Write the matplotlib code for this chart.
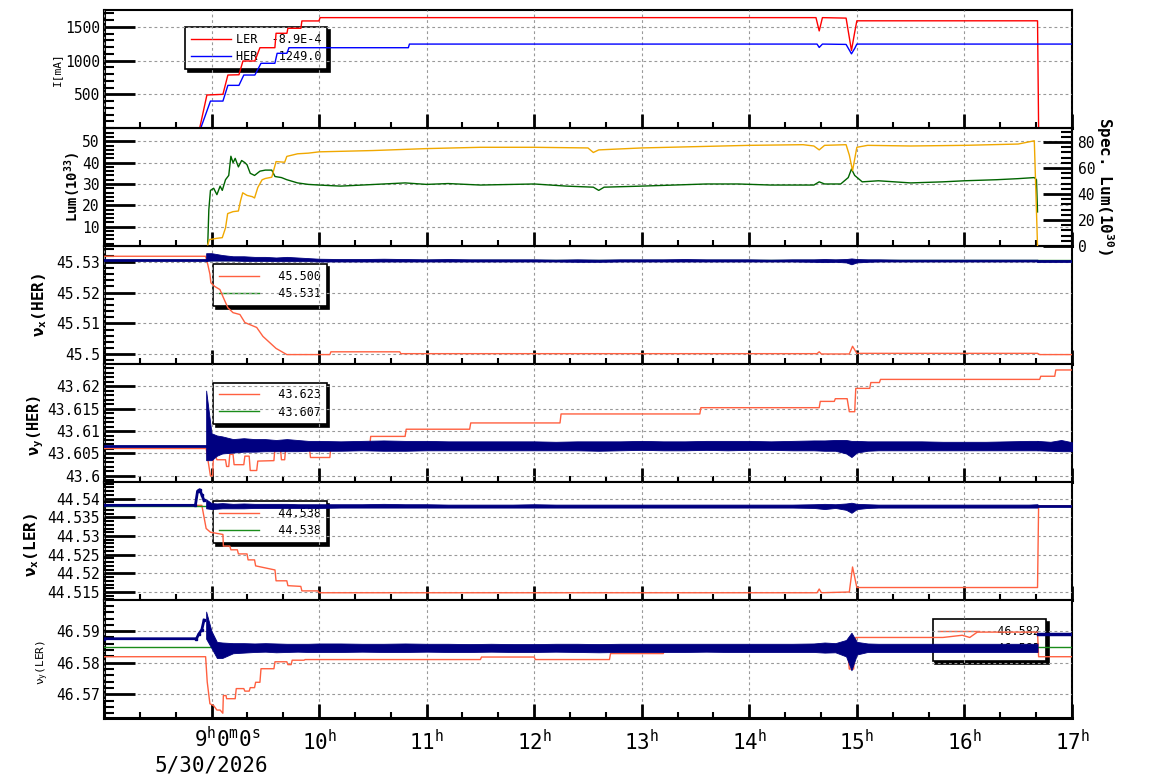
import matplotlib
matplotlib.use("Agg")
import matplotlib.pyplot as plt
from matplotlib.ticker import MultipleLocator, AutoMinorLocator, FuncFormatter

plt.rcParams['font.family'] = 'DejaVu Sans Mono'
plt.rcParams['mathtext.default'] = 'regular'

# ---------------- data (time in hours) ----------------
# beam currents [mA]
ler_t = [8.0, 8.89, 8.957, 9.106, 9.152, 9.255, 9.292, 9.403, 9.45, 9.589, 9.60, 9.701, 9.71,
         9.831, 9.84, 9.998, 10.01, 14.62, 14.65, 14.68, 14.90, 14.95, 14.98, 15.0, 16.68, 16.69, 17.0]
ler_i = [0, 0, 490, 500, 786, 790, 994, 994, 1191, 1191, 1405, 1405, 1479,
         1479, 1588, 1588, 1637, 1637, 1440, 1637, 1630, 1150, 1420, 1590, 1590, 0, 0]
her_t = [8.0, 8.90, 8.99, 9.106, 9.152, 9.255, 9.30, 9.403, 9.46, 9.589, 9.61, 9.701, 9.72,
         10.83, 10.84, 14.63, 14.65, 14.68, 14.90, 14.95, 14.98, 15.0, 17.0]
her_i = [0, 0, 400, 400, 633, 633, 786, 786, 960, 960, 1108, 1108, 1191,
         1191, 1245, 1245, 1195, 1245, 1240, 1100, 1180, 1245, 1245]

# luminosity
lum_t = [8.965, 8.975, 8.99, 9.02, 9.05, 9.08, 9.10, 9.13, 9.16, 9.18, 9.20, 9.22, 9.25, 9.28,
         9.31, 9.33, 9.36, 9.40, 9.45, 9.50, 9.56, 9.59, 9.65, 9.70, 9.80, 9.90, 10.0, 10.2,
         10.4, 10.6, 10.8, 11.0, 11.2, 11.5, 11.8, 12.0, 12.3, 12.55, 12.6, 12.65, 13.0, 13.3,
         13.6, 13.9, 14.2, 14.5, 14.6, 14.65, 14.7, 14.85, 14.92, 14.95, 14.98, 15.05, 15.2,
         15.5, 15.8, 16.0, 16.3, 16.5, 16.65, 16.67, 16.68]
lum_v = [2, 18, 27, 28, 25, 29, 27, 32, 34, 43, 40, 42, 38, 41,
         40, 39, 35, 34, 36, 36.5, 36.5, 33.5, 33, 32, 30.5, 29.8, 29.5, 29,
         29.5, 30, 30.5, 29.8, 30.2, 29.5, 29.8, 30, 29, 28.5, 27, 28.5, 29, 29.5,
         30, 30, 29.5, 29.5, 29.5, 31, 30, 30, 33, 37, 34, 31, 31.5,
         30.5, 31, 31.5, 32, 32.5, 33, 32, 16.9]
spec_t = [8.965, 8.98, 9.05, 9.10, 9.13, 9.15, 9.20, 9.25, 9.27, 9.29, 9.33, 9.38, 9.40, 9.43,
          9.47, 9.50, 9.56, 9.59, 9.60, 9.68, 9.70, 9.75, 9.80, 9.90, 10.0, 10.5, 11.0, 11.5,
          12.0, 12.5, 12.55, 12.6, 13.0, 13.5, 14.0, 14.5, 14.6, 14.65, 14.7, 14.9, 14.93,
          14.96, 15.0, 15.1, 15.5, 16.0, 16.5, 16.65, 16.68]
spec_v = [1, 5, 6, 6.5, 14, 25, 26.5, 27, 35, 41, 39, 38, 37, 45,
          51, 52, 53, 62, 65, 64.5, 69, 70, 71, 71.5, 72.5, 73.5, 75, 76,
          76, 75.5, 72, 74, 75.5, 76.5, 77.5, 78, 77, 74, 77.5, 78, 70,
          58, 76, 77.5, 77, 77.5, 78.5, 81, 0]

# common time grid for measured tunes (blue points)
tb = [8.95, 9.0, 9.05, 9.1, 9.2, 9.3, 9.4, 9.5, 9.6, 9.7, 9.8, 9.9, 10.0, 10.2, 10.4, 10.6,
      10.8, 11.0, 11.2, 11.4, 11.6, 11.8, 12.0, 12.2, 12.4, 12.6, 12.8, 13.0, 13.2, 13.4,
      13.6, 13.8, 14.0, 14.2, 14.4, 14.6, 14.7, 14.8, 14.9, 14.95, 15.0, 15.1, 15.2, 15.4,
      15.6, 15.8, 16.0, 16.2, 16.4, 16.6, 16.68]

# nu_x HER
hx_set_t = [8.0, 8.945, 8.966, 8.985, 8.994, 9.03, 9.078, 9.115, 9.152, 9.20, 9.264, 9.31,
            9.42, 9.478, 9.60, 9.70, 10.1, 10.11, 10.75, 10.76, 14.63, 14.65, 14.67, 14.93,
            14.96, 15.0, 16.68, 16.70, 17.0]
hx_set_v = [45.5318, 45.5318, 45.529, 45.526, 45.5232, 45.522, 45.521, 45.518, 45.5151,
            45.5135, 45.5129, 45.5103, 45.5087, 45.5058, 45.5019, 45.4999, 45.4999, 45.5008,
            45.5008, 45.5002, 45.5002, 45.5008, 45.5001, 45.5001, 45.5026, 45.5003, 45.5003,
            45.4999, 45.4999]
hx_ref = 45.5306
hx_lo = [45.5303, 45.5304, 45.5304, 45.5304, 45.5304, 45.5303, 45.5303, 45.5303, 45.5302,
         45.5302, 45.5302, 45.5302, 45.5301, 45.5301, 45.5301, 45.5301, 45.5301, 45.5301,
         45.5301, 45.5301, 45.5301, 45.5301, 45.5301, 45.5301, 45.5300, 45.5300, 45.5301,
         45.5301, 45.5301, 45.5301, 45.5301, 45.5301, 45.5301, 45.5301, 45.5301, 45.5300,
         45.5299, 45.5300, 45.5298, 45.5292, 45.5298, 45.5300, 45.5301, 45.5301, 45.5301,
         45.5301, 45.5301, 45.5301, 45.5301, 45.5301, 45.5301]
hx_hi = [45.5328, 45.5328, 45.5325, 45.5322, 45.5318, 45.5318, 45.5316, 45.5316, 45.5314,
         45.5316, 45.5314, 45.5312, 45.5310, 45.5309, 45.5309, 45.5310, 45.5309, 45.5308,
         45.5309, 45.5308, 45.5308, 45.5308, 45.5308, 45.5307, 45.5308, 45.5307, 45.5308,
         45.5308, 45.5308, 45.5309, 45.5308, 45.5308, 45.5308, 45.5307, 45.5308, 45.5308,
         45.5309, 45.5308, 45.5309, 45.5311, 45.5309, 45.5308, 45.5308, 45.5307, 45.5307,
         45.5307, 45.5307, 45.5307, 45.5307, 45.5307, 45.5307]

# nu_y HER
hy_set_t = [8.0, 8.95, 8.98, 8.99, 9.01, 9.02, 9.05, 9.13, 9.14, 9.16, 9.17, 9.20, 9.21, 9.30,
            9.31, 9.35, 9.36, 9.42, 9.43, 9.58, 9.59, 9.64, 9.65, 9.68, 9.69, 9.91, 9.92,
            10.1, 10.11, 10.47, 10.48, 10.80, 10.81, 11.40, 11.41, 12.24, 12.25, 13.54,
            13.55, 14.65, 14.66, 14.79, 14.80, 14.91, 14.93, 14.98, 14.99, 15.12, 15.13,
            15.21, 15.22, 16.70, 16.71, 16.84, 16.85, 17.0]
hy_set_v = [43.6061, 43.6061, 43.6015, 43.6, 43.6, 43.6055, 43.6036, 43.6036, 43.6021,
            43.6021, 43.6048, 43.6048, 43.6025, 43.6025, 43.6044, 43.6044, 43.6012, 43.6012,
            43.6033, 43.6034, 43.6063, 43.6063, 43.6036, 43.6036, 43.6063, 43.6063, 43.6041,
            43.6041, 43.6066, 43.6066, 43.6088, 43.6088, 43.6104, 43.6104, 43.6118, 43.6118,
            43.6138, 43.6138, 43.6152, 43.6152, 43.6166, 43.6166, 43.6172, 43.6172, 43.6143,
            43.6143, 43.6195, 43.6195, 43.6208, 43.6208, 43.6215, 43.6215, 43.6222, 43.6222,
            43.6236, 43.6236]
hy_ref = 43.6067
hy_lo = [43.6035, 43.6035, 43.6045, 43.6050, 43.6052, 43.6054, 43.6054, 43.6055, 43.6055,
         43.6055, 43.6055, 43.6056, 43.6056, 43.6056, 43.6057, 43.6056, 43.6056, 43.6057,
         43.6057, 43.6057, 43.6057, 43.6057, 43.6057, 43.6057, 43.6057, 43.6056, 43.6057,
         43.6058, 43.6057, 43.6057, 43.6058, 43.6057, 43.6058, 43.6058, 43.6057, 43.6057,
         43.6056, 43.6056, 43.6050, 43.6042, 43.6052, 43.6056, 43.6057, 43.6057, 43.6057,
         43.6057, 43.6057, 43.6057, 43.6057, 43.6057, 43.6057]
hy_hi = [43.6190, 43.6095, 43.6090, 43.6088, 43.6082, 43.6084, 43.6082, 43.6082, 43.6080,
         43.6082, 43.6080, 43.6078, 43.6078, 43.6077, 43.6078, 43.6079, 43.6078, 43.6078,
         43.6077, 43.6077, 43.6077, 43.6077, 43.6077, 43.6076, 43.6077, 43.6077, 43.6077,
         43.6078, 43.6077, 43.6077, 43.6078, 43.6078, 43.6078, 43.6077, 43.6078, 43.6079,
         43.6079, 43.6080, 43.6080, 43.6078, 43.6078, 43.6077, 43.6077, 43.6077, 43.6077,
         43.6076, 43.6076, 43.6076, 43.6077, 43.6078, 43.6078]
hy_end_t = [16.68, 16.8, 16.9, 17.0]
hy_end_lo = [43.6057, 43.6056, 43.6055, 43.6055]
hy_end_hi = [43.6078, 43.6076, 43.6080, 43.6075]

# nu_x LER
lx_set_t = [8.0, 8.91, 8.95, 8.99, 9.106, 9.11, 9.17, 9.18, 9.24, 9.25, 9.33, 9.34, 9.40,
            9.41, 9.59, 9.60, 9.70, 9.71, 9.83, 9.84, 9.99, 10.0, 14.63, 14.65, 14.67,
            14.93, 14.96, 15.0, 16.68, 16.69, 17.0]
lx_set_v = [44.5382, 44.5382, 44.532, 44.5310, 44.5304, 44.5273, 44.5273, 44.5263, 44.5263,
            44.5252, 44.5252, 44.5236, 44.5236, 44.5220, 44.5209, 44.5180, 44.5180, 44.5167,
            44.5165, 44.5153, 44.5153, 44.5148, 44.5148, 44.5158, 44.5148, 44.5150, 44.5217,
            44.5162, 44.5162, 44.5381, 44.5381]
lx_ref = 44.5379
lx_lo = [44.5374, 44.5372, 44.5373, 44.5374, 44.5374, 44.5374, 44.5375, 44.5375, 44.5375,
         44.5375, 44.5375, 44.5375, 44.5375, 44.5376, 44.5376, 44.5376, 44.5376, 44.5376,
         44.5376, 44.5376, 44.5376, 44.5376, 44.5376, 44.5376, 44.5376, 44.5376, 44.5376,
         44.5376, 44.5376, 44.5376, 44.5376, 44.5376, 44.5376, 44.5376, 44.5376, 44.5375,
         44.5372, 44.5375, 44.5370, 44.5362, 44.5372, 44.5375, 44.5376, 44.5376, 44.5376,
         44.5376, 44.5376, 44.5376, 44.5376, 44.5376, 44.5376]
lx_hi = [44.5398, 44.5388, 44.5387, 44.5388, 44.5386, 44.5387, 44.5386, 44.5386, 44.5386,
         44.5386, 44.5385, 44.5385, 44.5385, 44.5385, 44.5385, 44.5386, 44.5385, 44.5385,
         44.5384, 44.5384, 44.5384, 44.5384, 44.5385, 44.5384, 44.5384, 44.5384, 44.5384,
         44.5384, 44.5384, 44.5384, 44.5384, 44.5384, 44.5384, 44.5384, 44.5384, 44.5385,
         44.5386, 44.5385, 44.5387, 44.5389, 44.5386, 44.5385, 44.5384, 44.5384, 44.5384,
         44.5384, 44.5384, 44.5384, 44.5384, 44.5384, 44.5385]
lx_pre_t = [8.0, 8.85, 8.87, 8.89, 8.91, 8.93]
lx_pre_v = [44.5382, 44.5382, 44.5420, 44.5424, 44.5410, 44.5395]

# nu_y LER
ly_set_t = [8.0, 8.945, 8.96, 8.985, 9.02, 9.05, 9.08, 9.105, 9.11, 9.135, 9.14, 9.22, 9.23,
            9.30, 9.31, 9.35, 9.36, 9.40, 9.41, 9.45, 9.46, 9.58, 9.59, 9.70, 9.71, 9.74,
            9.75, 9.86, 9.87, 10.0, 11.5, 11.51, 12.0, 12.01, 12.7, 12.71, 13.2, 13.21,
            13.9, 13.91, 14.6, 14.61, 14.91, 14.93, 14.97, 14.99, 15.8, 15.98, 16.05, 16.12,
            16.68, 16.69, 17.0]
ly_set_v = [46.5819, 46.5819, 46.5739, 46.5670, 46.5664, 46.5650, 46.5650, 46.5640, 46.5696,
            46.5696, 46.5686, 46.5686, 46.5718, 46.5718, 46.5710, 46.5710, 46.5721, 46.5721,
            46.5738, 46.5738, 46.5781, 46.5781, 46.5803, 46.5803, 46.5794, 46.5794, 46.5808,
            46.5808, 46.5810, 46.5810, 46.5810, 46.5818, 46.5818, 46.5810, 46.5810, 46.5829,
            46.5829, 46.5838, 46.5838, 46.5848, 46.5848, 46.5852, 46.5852, 46.5780, 46.5780,
            46.5880, 46.5880, 46.5887, 46.5880, 46.5897, 46.5897, 46.5819, 46.5819]
ly_ref = 46.5851
ly_lo = [46.5876, 46.5846, 46.5815, 46.5815, 46.5830, 46.5832, 46.5834, 46.5835, 46.5833,
         46.5834, 46.5835, 46.5834, 46.5834, 46.5834, 46.5835, 46.5834, 46.5834, 46.5835,
         46.5834, 46.5834, 46.5835, 46.5834, 46.5834, 46.5835, 46.5834, 46.5833, 46.5834,
         46.5834, 46.5834, 46.5834, 46.5835, 46.5834, 46.5834, 46.5834, 46.5834, 46.5834,
         46.5832, 46.5833, 46.5820, 46.5776, 46.5826, 46.5834, 46.5834, 46.5834, 46.5834,
         46.5834, 46.5834, 46.5834, 46.5834, 46.5834, 46.5834]
ly_hi = [46.5962, 46.5900, 46.5866, 46.5864, 46.5862, 46.5862, 46.5861, 46.5862, 46.5861,
         46.5860, 46.5860, 46.5860, 46.5861, 46.5861, 46.5860, 46.5860, 46.5861, 46.5860,
         46.5860, 46.5859, 46.5860, 46.5859, 46.5859, 46.5860, 46.5860, 46.5859, 46.5860,
         46.5860, 46.5860, 46.5860, 46.5860, 46.5860, 46.5860, 46.5860, 46.5860, 46.5861,
         46.5864, 46.5862, 46.5872, 46.5895, 46.5866, 46.5861, 46.5860, 46.5860, 46.5860,
         46.5860, 46.5860, 46.5860, 46.5860, 46.5860, 46.5860]
ly_pre_t = [8.0, 8.86, 8.88, 8.91, 8.93]
ly_pre_v = [46.5876, 46.5876, 46.5890, 46.5905, 46.5935]

# ---------------- figure ----------------
RED, BLUE = '#ff0000', '#0000ff'
TRED, TGRN, NAVY = '#ff6040', '#1a8c1a', '#000080'
LGRN, ORNG = '#006400', '#f0a800'

fig = plt.figure(figsize=(11.54, 7.82), dpi=100)
gs = fig.add_gridspec(6, 1, left=0.0901, right=0.9289, top=0.9872, bottom=0.0815, hspace=0)
axes = []
for i in range(6):
    axes.append(fig.add_subplot(gs[i], sharex=axes[0] if axes else None))


def fmt(v, p):
    if abs(v) < 1e-9:
        return ''
    return '%g' % v


def style(ax, lo, hi, major):
    ax.set_xlim(8, 17)
    ax.set_ylim(lo, hi)
    ax.xaxis.set_major_locator(MultipleLocator(1))
    ax.xaxis.set_minor_locator(MultipleLocator(1 / 3))
    ax.yaxis.set_major_locator(MultipleLocator(major))
    ax.yaxis.set_minor_locator(AutoMinorLocator(5))
    ax.yaxis.set_major_formatter(FuncFormatter(fmt))
    ax.tick_params(axis='y', which='major', direction='in', length=22, width=2,
                   labelsize=10.5, pad=3, right=False)
    ax.tick_params(axis='y', which='minor', direction='in', length=7, width=1.5, right=False)
    ax.tick_params(axis='x', which='major', direction='in', length=10, width=2,
                   labelbottom=False, top=False, bottom=True)
    ax.tick_params(axis='x', which='minor', direction='in', length=4, width=1.5,
                   top=False, bottom=True)
    ax.grid(True, which='major', color='#999999', linestyle=(0, (2.5, 2.5)), linewidth=0.8)
    ax.set_axisbelow(False)
    for s in ax.spines.values():
        s.set_linewidth(1.5)
    ax.spines['left'].set_linewidth(2.2)
    ax.spines['bottom'].set_linewidth(2.2)


def legend(ax, loc):
    leg = ax.legend(loc='upper left', bbox_to_anchor=loc, fontsize=8.5, frameon=True,
                    fancybox=False, shadow={'color': 'k', 'alpha': 1}, edgecolor='k',
                    handlelength=3.4, handletextpad=0.4, borderpad=0.5, labelspacing=0.35,
                    borderaxespad=0)
    leg.get_frame().set_linewidth(1.2)
    leg.set_zorder(1)
    return leg


# panel 1: currents
ax = axes[0]
ax.plot(ler_t, ler_i, color=RED, lw=1.0, label='LER  -8.9E-4', zorder=3)
ax.plot(her_t, her_i, color=BLUE, lw=1.0, label='HER   1249.0', zorder=3)
style(ax, 0, 1750, 500)
legend(ax, (0.0837, 0.856))

# panel 2: luminosity
ax = axes[1]
ax.plot(lum_t, lum_v, color=LGRN, lw=1.0, zorder=3)
style(ax, 0.9, 56.2, 10)
ax2 = ax.twinx()
ax2.plot(spec_t, spec_v, color=ORNG, lw=1.0, zorder=3)
ax2.set_ylim(0, 90.8)
ax2.yaxis.set_major_locator(MultipleLocator(20))
ax2.yaxis.set_minor_locator(AutoMinorLocator(5))
ax2.tick_params(axis='y', which='major', direction='in', length=21, width=2, labelsize=10.5, pad=4)
ax2.tick_params(axis='y', which='minor', direction='in', length=8, width=1.5)
ax2.tick_params(axis='x', which='both', top=False, bottom=False, labelbottom=False)
ax2.spines['right'].set_linewidth(1.5)


def tune_panel(ax, set_t, set_v, ref, lo, hi, ylim, major, labels, legloc):
    ax.plot(set_t, set_v, color=TRED, lw=1.0, label=labels[0], zorder=3)
    ax.axhline(ref, color=TGRN, lw=1.0, label=labels[1], zorder=3)
    ax.fill_between(tb, lo, hi, color=NAVY, edgecolor=NAVY, lw=0.6, zorder=4)
    style(ax, ylim[0], ylim[1], major)
    return legend(ax, legloc)


# panel 3: nu_x HER
ax = axes[2]
ax.plot([8.0, 8.95], [hx_ref, hx_ref], color=NAVY, lw=2.0, zorder=4)
ax.plot([16.68, 17.0], [45.5304, 45.5304], color=NAVY, lw=2.0, zorder=4)
tune_panel(ax, hx_set_t, hx_set_v, hx_ref, hx_lo, hx_hi, (45.4968, 45.5351), 0.01,
           ['  45.500', '  45.531'], (0.1126, 0.847))

# panel 4: nu_y HER
ax = axes[3]
ax.plot([8.0, 8.95], [hy_ref, hy_ref], color=NAVY, lw=2.0, zorder=4)
ax.fill_between(hy_end_t, hy_end_lo, hy_end_hi, color=NAVY, edgecolor=NAVY, lw=0.6, zorder=4)
tune_panel(ax, hy_set_t, hy_set_v, hy_ref, hy_lo, hy_hi, (43.5986, 43.6249), 0.005,
           ['  43.623', '  43.607'], (0.1126, 0.844))

# panel 5: nu_x LER
ax = axes[4]
ax.plot(lx_pre_t, lx_pre_v, color=NAVY, lw=2.0, marker='s', ms=2, zorder=4)
ax.plot([16.68, 17.0], [44.5381, 44.5381], color=NAVY, lw=2.0, zorder=4)
tune_panel(ax, lx_set_t, lx_set_v, lx_ref, lx_lo, lx_hi, (44.5128, 44.5444), 0.005,
           ['  44.538', '  44.538'], (0.1126, 0.837))

# panel 6: nu_y LER
ax = axes[5]
ax.plot(ly_pre_t, ly_pre_v, color=NAVY, lw=2.0, marker='s', ms=2, zorder=4)
ax.plot([16.68, 17.0], [46.5891, 46.5891], color=NAVY, lw=2.5, zorder=4)
tune_panel(ax, ly_set_t, ly_set_v, ly_ref, ly_lo, ly_hi, (46.5624, 46.5998), 0.01,
           ['  46.582', '  46.585'], (0.856, 0.837))

# bottom time axis
ax = axes[5]
ax.xaxis.set_major_formatter(FuncFormatter(
    lambda v, p: '' if round(v) in (8, 9) else '%d$^{h}$' % round(v)))
ax.tick_params(axis='x', which='major', labelbottom=True, labelsize=15, pad=8)
ax.annotate('9$^{h}$0$^{m}$0$^{s}$', xy=(9, 0), xycoords=('data', 'axes fraction'),
            xytext=(11.5, -5.8), textcoords='offset points', ha='center', va='top', fontsize=15)
ax.annotate('5/30/2026', xy=(9, 0), xycoords=('data', 'axes fraction'),
            xytext=(0, -27), textcoords='offset points', ha='center', va='top', fontsize=15)

# axis titles
H = 782.0
W = 1154.0
fig.text(57 / W, 1 - 69 / H, 'I[mA]', rotation=90, ha='center', va='center', fontsize=8)
fig.text(73 / W, 1 - 187 / H, 'Lum(10$^{33}$)', rotation=90, ha='center', va='center',
         fontsize=10, fontweight='bold')
fig.text(40 / W, 1 - 305 / H, 'ν$_{x}$(HER)', rotation=90, ha='center', va='center',
         fontsize=11.5, fontweight='bold')
fig.text(36 / W, 1 - 425 / H, 'ν$_{y}$(HER)', rotation=90, ha='center', va='center',
         fontsize=11, fontweight='bold')
fig.text(32 / W, 1 - 545 / H, 'ν$_{x}$(LER)', rotation=90, ha='center', va='center',
         fontsize=11.5, fontweight='bold')
fig.text(43 / W, 1 - 662 / H, 'ν$_{y}$(LER)', rotation=90, ha='center', va='center', fontsize=8)
fig.text(1105 / W, 1 - 186 / H, 'Spec. Lum(10$^{30}$)', rotation=270, ha='center', va='center',
         fontsize=11.5, fontweight='bold')

fig.savefig('out.png', dpi=100)
